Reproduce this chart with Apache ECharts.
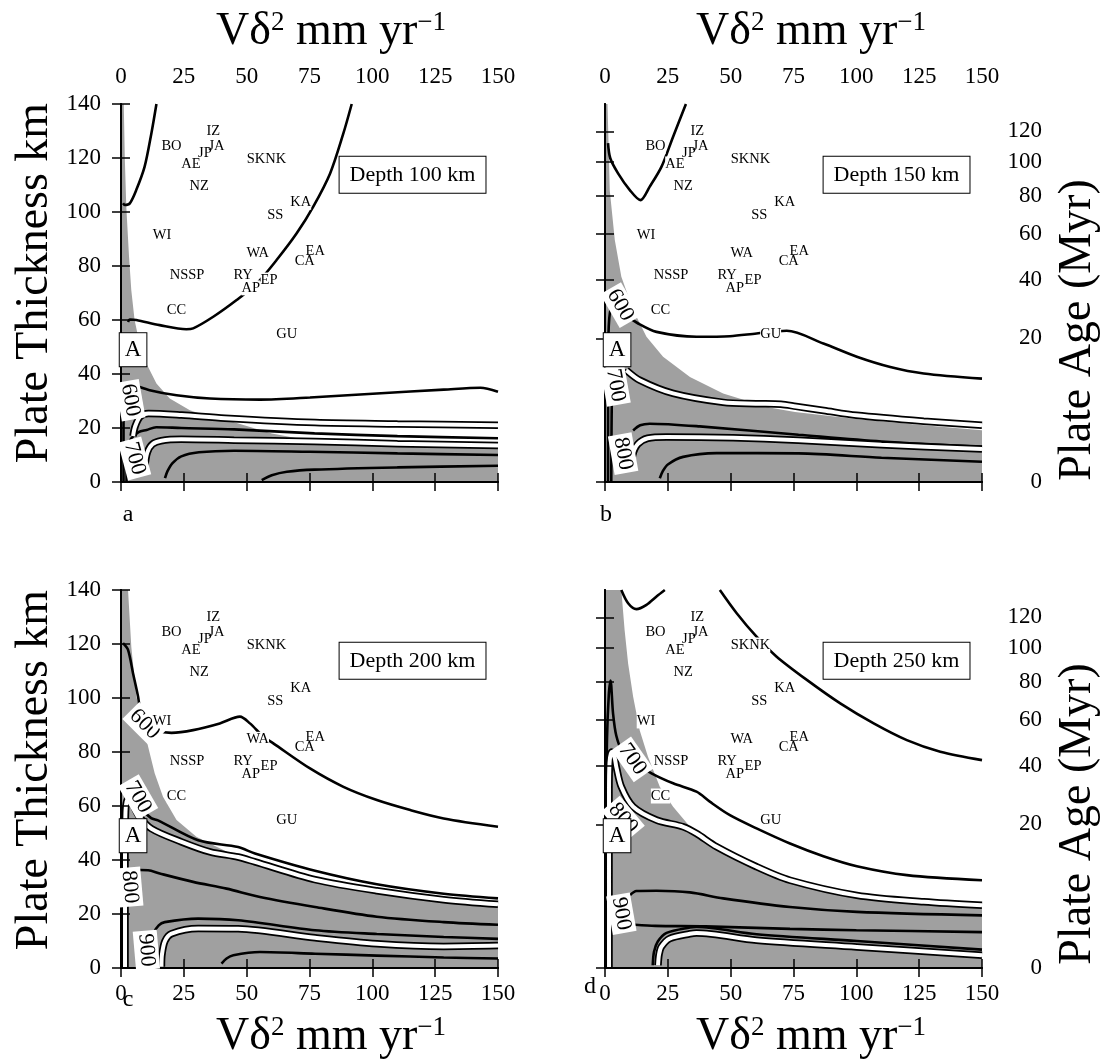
<!DOCTYPE html>
<html>
<head>
<meta charset="utf-8">
<title>Plate thickness vs V delta squared</title>
<script src="https://cdn.jsdelivr.net/npm/echarts@6/dist/echarts.min.js"></script>
<style>
  html, body { margin: 0; padding: 0; background: #fff; }
  #chart { width: 1101px; height: 1060px; }
</style>
</head>
<body>
<div id="chart"></div>
<script>
// ---- axis ticks ----
var xTicks = [0, 25, 50, 75, 100, 125, 150];
var ageLabels = [0, 20, 40, 60, 80, 100, 120];
var ageThickness = [0, 53.2, 74.9, 91.8, 105.9, 118.6, 129.9];   // km where each age tick sits

// ---- subduction zones (same in every panel) ----
var zoneNames = ['IZ', 'BO', 'JA', 'JP', 'AE', 'SKNK', 'NZ', 'KA', 'SS', 'WI', 'WA', 'EA', 'CA', 'NSSP', 'RY', 'EP', 'AP', 'CC', 'GU'];
var zoneV = [36.7, 20.1, 38, 33.4, 27.8, 57.9, 31.1, 71.5, 61.4, 16.3, 54.4, 77.3, 73.1, 26.3, 48.6, 58.9, 51.6, 22.1, 65.9];
var zoneH = [129.8, 124.2, 124.2, 121.7, 117.8, 119.6, 109.6, 103.6, 98.9, 91.5, 84.7, 85.5, 81.8, 76.6, 76.6, 74.8, 71.9, 63.7, 54.6];

var depths = [100, 150, 200, 250];

// ---- panel a : depth 100 km ----
var greyA = [[0,140],[1.1,140],[1.5,120.5],[2.1,102],[3.2,83.4],[4.1,71],[5.4,60],[7.4,51.3],[10.1,43.9],[14.1,36.5],[19.4,30.9],[27.4,26.6],[35.4,24.1],[44.7,22.2],[60,18],[77,15],[110,14.2],[150,13.5],[150,0],[0,0]];
var lineA1 = [[14.1,140],[12.1,129.2],[9.4,116.8],[6.1,108.2],[3.5,103.2],[1.5,102.6],[0.8,103.2]];
var lineA2 = [[91.8,140],[88.5,129.2],[83.2,114.3],[76.5,102],[69.9,92.1],[61.9,82.2],[54,73.5],[46,67.4],[36.7,61.2],[28.7,56.9],[26,56.6],[15.4,58.1],[6.1,60],[3.5,60.2],[2.8,59.3]];
var lineA3 = [[150,33.4],[143,34.9],[128.4,34.2],[101.8,32.8],[75.2,31.3],[55.3,30.5],[35.4,30.9],[22.1,32.1],[11.4,34],[5.4,35.8],[2.5,36.5],[1.2,34],[1,25],[1,0]];
var lineA4 = [[150,16.2],[110,17],[77,18],[45,19.5],[24,20],[14,20.3],[10.2,19.3],[7,18.5],[4,16],[2.5,12],[2.2,0]];
var lineA5 = [[17.5,1.4],[18.5,4],[20.5,7],[24,9.5],[31,11],[45,11.6],[75,11.2],[110,10.6],[150,10]];
var lineA6 = [[56,0.7],[60,2.5],[66,3.8],[77,4.6],[110,5.4],[150,6]];
var ribbonA1 = [[4.8,17],[5.6,20.5],[7.6,24.2],[10.9,25.4],[24.1,24.8],[41.4,23.6],[77.2,22],[110,21.5],[150,21]];
var ribbonA2 = [[9.5,6],[10.5,11],[12.5,14],[16,15.3],[24,15.8],[45,15.5],[77,15],[110,14.2],[150,13.5]];
var levelsA = [[3.7,30.3,'600'],[5.4,8.7,'700']];
var levelAnglesA = [-80, -75];

// ---- panel b : depth 150 km ----
var greyB = [[0,140],[1,140],[1.9,108],[3.9,89.6],[6.5,76],[11.2,63.7],[16.5,53.8],[23.1,46.4],[33.8,38.9],[47,32.8],[57.7,29.7],[66,27.5],[75.6,25.9],[100,23.3],[126.8,21],[150,19.2],[150,0],[0,0]];
var lineB1 = [[32.2,140],[27.1,127.9],[22.5,116.8],[17.8,109.4],[14.1,104.4],[9.8,108.2],[5.2,114.3],[2.1,119.9],[1.2,125.5]];
var lineB2 = [[150,38.3],[126.8,40.2],[113.5,42.6],[100.2,46.4],[86.9,51.3],[72.3,56],[60.3,55],[49.7,54],[36.4,53.8],[20.5,55.6],[13.2,58.7],[8,62],[4,66],[2,63],[1.3,50],[1.2,0]];
var lineB3 = [[150,13],[110,15],[77,17.5],[37.7,20.6],[17.8,21.6],[14,21],[11.2,19.1]];
var lineB4 = [[21.8,1.4],[23,4],[25,6.5],[31.1,9.3],[44.4,10.7],[77,10.6],[110,9],[150,7.5]];
var lineB5 = [[8.5,41.4],[5,40],[3,36],[2.6,20],[2.5,0]];
var ribbonB1 = [[8.5,41.4],[13.8,37.7],[27.1,32.8],[47,29.5],[60,29],[70,28.8],[76,28],[87,26.5],[100,24.7],[126.8,22.5],[150,21]];
var ribbonB2 = [[10.5,5],[11,10],[13,14],[17,16.2],[24.5,16.7],[51,16.4],[77,15.5],[110,13.8],[150,12.2]];
var levelsB = [[6.1,65.5,'600'],[4.2,35.8,'700'],[7.2,10.5,'800']];
var levelAnglesB = [-60, -80, -80];

// ---- panel c : depth 200 km ----
var greyC = [[0,140],[2.8,140],[4.1,119],[6.1,100.5],[8.8,90.6],[10.8,81.9],[13.4,72.1],[16.7,63.4],[22.1,54.8],[30,48.6],[38,44.9],[46.6,41.1],[53.3,39.3],[77.2,32.7],[101.8,28.6],[128.4,25.3],[150,23.6],[150,0],[0,0]];
var lineC1 = [[0.8,120.3],[2.8,117.8],[4.8,109.1],[6.8,100.5],[7.4,96.8],[9.4,90.3],[14,88],[20.1,87.1],[28.7,88.1],[39.3,90.6],[47.3,93.1],[51.3,90.6],[56.6,85.7],[60.6,83.2],[75.2,73.9],[88.5,67.1],[101.8,62.2],[115.1,58.5],[128.4,55.4],[150,52.3]];
var lineC2 = [[7,60],[12,55.5],[14.7,54.7],[30.7,47.3],[46.6,44.8],[53.3,42.4],[77.2,36],[101.8,31],[128.4,27.5],[150,25.8]];
var lineC3 = [[3,36.4],[10.8,36.2],[15.4,35],[28.7,31.9],[42,29.4],[55.3,26.3],[77.2,22.6],[101.8,19],[128.4,17],[150,16]];
var lineC4 = [[11.8,9],[12.8,12.7],[15,15.8],[17.4,17],[30.7,18.3],[46.6,17.7],[77.2,14],[101.8,12.6],[128.4,11.5],[150,10.8]];
var lineC5 = [[40,1.6],[42,3.5],[44.7,4.7],[55.3,5.9],[77.2,5.3],[101.8,4.6],[128.4,3.9],[150,3.5]];
var ribbonC1 = [[1.6,0],[1.6,40],[1.8,58],[2.6,62.5],[4,62],[7,56.5],[12.1,51.6],[24.1,46.7],[35.4,43],[46.6,41.1],[53.3,39.3],[77.2,32.7],[101.8,28.6],[128.4,25.3],[150,23.6]];
var ribbonC2 = [[16.1,0.5],[16.3,5],[17.5,10],[20.1,12.7],[30.7,14.6],[46.6,14.5],[77.2,11.2],[101.8,9],[128.4,8],[150,8.3]];
var levelsC = [[9.4,90.3,'600'],[6.8,63.3,'700'],[3.5,30,'800'],[10.1,6.6,'900']];
var levelAnglesC = [-45, -60, -85, -85];

// ---- panel d : depth 250 km ----
var greyD = [[0,140],[6.5,140],[7.8,125.2],[9.2,112.8],[11.2,100.5],[13.8,88.1],[17.1,78.2],[21.8,67.1],[27.1,59.7],[33.8,52.3],[40.4,46.1],[47,42.4],[60.3,36.8],[73.6,32],[100.2,26.9],[126.8,24.5],[150,23.2],[150,0],[0,0]];
var lineD1 = [[6.5,140],[9.2,135.1],[12.5,132.9],[16.5,134.5],[20.5,137.6],[23.8,140]];
var lineD2 = [[45.7,140],[52.4,131.4],[60.3,122.7],[68.3,115.3],[80.3,106.7],[93.6,98],[106.9,90.6],[120.1,84.4],[133.4,80.1],[150,77]];
var lineD3 = [[150,32.5],[120.1,34.4],[100.2,37.7],[86.9,41.4],[73.6,46.1],[60.3,51.7],[49.7,56.6],[41.7,61.6],[36.4,65.3],[27.1,68.4],[18.5,72.1],[12,76],[7,80],[4.5,86],[3.2,94.3],[2.2,106.5],[1.5,101],[0.8,85],[0.6,60]];
var lineD4 = [[10,27],[12.5,28.5],[20.5,28.6],[33.8,28],[47,25.8],[73.6,22.6],[100.2,20.8],[150,19.5]];
var lineD5 = [[12,16],[20,15.6],[40,15.4],[73.6,14.5],[100,14],[150,13.3]];
var lineD6 = [[19,1],[19.5,6],[21,9.8],[24.5,13],[33.8,15],[36.4,15.2],[60.3,12.5],[100.2,10],[150,6.8]];
var ribbonD1 = [[1.6,0],[1.6,40],[1.6,65],[1.8,76],[2.6,80],[3.8,78],[4.5,74.5],[6.5,67.1],[11.2,59.7],[20.5,54.8],[31.1,52.3],[36.4,49.8],[44.4,44.9],[60.3,37.5],[73.6,32.5],[100.2,26.9],[126.8,24.5],[150,23.2]];
var ribbonD2 = [[21.1,1],[21.5,5],[22.4,7.8],[25.7,10.9],[33.8,12.7],[36.4,13],[60.3,10.3],[100.2,7.8],[150,4.7]];
var levelsD = [[10.9,77.3,'700'],[7.2,55.4,'800'],[6.5,20.1,'900']];
var levelAnglesD = [-55, -50, -80];

var panels = [
  { grey: greyA, lines: [lineA1, lineA2, lineA3, lineA4, lineA5, lineA6], ribbons: [ribbonA1, ribbonA2], levels: levelsA, angles: levelAnglesA },
  { grey: greyB, lines: [lineB1, lineB2, lineB3, lineB4, lineB5], ribbons: [ribbonB1, ribbonB2], levels: levelsB, angles: levelAnglesB },
  { grey: greyC, lines: [lineC1, lineC2, lineC3, lineC4, lineC5], ribbons: [ribbonC1, ribbonC2], levels: levelsC, angles: levelAnglesC },
  { grey: greyD, lines: [lineD1, lineD2, lineD3, lineD4, lineD5, lineD6], ribbons: [ribbonD1, ribbonD2], levels: levelsD, angles: levelAnglesD }
];

var gridLeft = [121, 605, 121, 605];
var gridTop = [104, 104, 590, 590];
var serif = '"Liberation Serif", "DejaVu Serif", serif';

var chart = echarts.init(document.getElementById('chart'));

var grids = [], xAxes = [], yAxes = [], series = [];

function ageFormatter(v) {
  var i = ageThickness.indexOf(v);
  return i >= 0 ? String(ageLabels[i]) : '';
}

panels.forEach(function (p, i) {
  var useAge = (i === 1 || i === 3);
  grids.push({ left: gridLeft[i], top: gridTop[i], width: 377, height: 378 });

  var xBase = {
    gridIndex: i, type: 'value', min: 0, max: 150, interval: 25, z: 5,
    axisLine: { lineStyle: { color: '#000', width: 2 } },
    axisTick: { show: true, length: 9, lineStyle: { color: '#000', width: 1.5 } },
    splitLine: { show: false }
  };
  xAxes.push(Object.assign({}, xBase, { position: 'bottom',
    axisLabel: { show: i >= 2, margin: 14, fontSize: 23, fontFamily: serif, color: '#000' } }));
  xAxes.push(Object.assign({}, xBase, { position: 'top',
    axisLabel: { show: i < 2, margin: 16, fontSize: 23, fontFamily: serif, color: '#000' } }));

  var yBase = {
    gridIndex: i, type: 'value', min: 0, max: 140, z: 5,
    axisLine: { lineStyle: { color: '#000', width: 2 } },
    splitLine: { show: false }
  };
  if (useAge) {
    yAxes.push(Object.assign({}, yBase, { position: 'left', interval: 20,
      axisTick: { show: true, length: 9, customValues: ageThickness, lineStyle: { color: '#000', width: 1.5 } },
      axisLabel: { show: false } }));
    yAxes.push(Object.assign({}, yBase, { position: 'right', interval: 20,
      axisTick: { show: true, length: 9, customValues: ageThickness, lineStyle: { color: '#000', width: 1.5 } },
      axisLabel: { show: true, customValues: ageThickness, formatter: ageFormatter, align: 'right', margin: 60,
        fontSize: 23, fontFamily: serif, color: '#000' } }));
  } else {
    yAxes.push(Object.assign({}, yBase, { position: 'left', interval: 20,
      axisTick: { show: true, length: 9, lineStyle: { color: '#000', width: 1.5 } },
      axisLabel: { show: true, margin: 20, fontSize: 23, fontFamily: serif, color: '#000' } }));
    yAxes.push(Object.assign({}, yBase, { position: 'right', interval: 20,
      axisTick: { show: true, length: 9, lineStyle: { color: '#000', width: 1.5 } },
      axisLabel: { show: false } }));
  }

  var xi = 2 * i, yi = 2 * i;

  // grey region
  series.push({
    type: 'custom', coordinateSystem: 'cartesian2d', xAxisIndex: xi, yAxisIndex: yi,
    silent: true, z: 1, data: p.grey,
    renderItem: function (params, api) {
      if (params.dataIndex !== 0) return null;
      var pts = p.grey.map(function (d) { return api.coord(d); });
      return { type: 'polygon', shape: { points: pts }, style: { fill: '#a0a0a0', stroke: null } };
    }
  });

  // black contours
  p.lines.forEach(function (ln) {
    series.push({
      type: 'line', xAxisIndex: xi, yAxisIndex: yi, data: ln, symbol: 'none', smooth: 0.3,
      silent: true, z: 2, lineStyle: { color: '#000', width: 2.6 }
    });
  });

  // white contours with black edges
  p.ribbons.forEach(function (ln) {
    series.push({
      type: 'line', xAxisIndex: xi, yAxisIndex: yi, data: ln, symbol: 'none', smooth: 0.3,
      silent: true, z: 3, lineStyle: { color: '#000', width: 7.5 }
    });
    series.push({
      type: 'line', xAxisIndex: xi, yAxisIndex: yi, data: ln, symbol: 'none', smooth: 0.3,
      silent: true, z: 4, lineStyle: { color: '#fff', width: 4 }
    });
  });

  // annotations: contour levels, zone names (white patch + text), "A", depth box
  var notes = [];
  p.levels.forEach(function (l, k) {
    notes.push({ v: [l[0], l[1]], text: l[2], kind: 'level', angle: p.angles[k] });
  });
  zoneNames.forEach(function (n, k) {
    notes.push({ v: [zoneV[k], zoneH[k]], text: n, kind: 'patch' });
  });
  zoneNames.forEach(function (n, k) {
    notes.push({ v: [zoneV[k], zoneH[k]], text: n, kind: 'zone' });
  });
  notes.push({ v: [4.8, 49], text: 'A', kind: 'box' });
  notes.push({ v: [116, 113.8], text: 'Depth ' + depths[i] + ' km', kind: 'depth' });

  series.push({
    type: 'custom', coordinateSystem: 'cartesian2d', xAxisIndex: xi, yAxisIndex: yi,
    silent: true, z: 8, data: notes.map(function (n) { return n.v; }),
    renderItem: function (params, api) {
      var n = notes[params.dataIndex];
      var c = api.coord(n.v);
      var st = { text: n.text, fill: '#000', align: 'center', verticalAlign: 'middle' };
      var el = { type: 'text', x: c[0], y: c[1], style: st };
      if (n.kind === 'level') {
        st.font = '22px ' + serif; st.padding = [1, 3]; st.backgroundColor = '#fff';
        el.rotation = n.angle * Math.PI / 180; el.z2 = 1;
      } else if (n.kind === 'patch') {
        st.font = '14.5px ' + serif; st.fill = 'rgba(0,0,0,0)'; st.backgroundColor = '#fff'; el.z2 = 2;
      } else if (n.kind === 'zone') {
        st.font = '14.5px ' + serif; el.z2 = 3;
      } else if (n.kind === 'box') {
        st.font = '23px ' + serif; st.padding = [5, 5]; st.backgroundColor = '#fff';
        st.borderColor = '#000'; st.borderWidth = 1; el.z2 = 4;
      } else {
        st.font = '22px ' + serif; st.padding = [7, 10]; st.backgroundColor = '#fff';
        st.borderColor = '#000'; st.borderWidth = 1; el.z2 = 4;
      }
      return el;
    }
  });
});

function axisTitle(x, y) {
  return {
    type: 'text', x: x, y: y, silent: true,
    style: {
      text: '{n|V\u03b4}{s|2}{n| mm yr}{s|\u22121}', align: 'center', verticalAlign: 'middle', fill: '#000',
      rich: {
        n: { fontSize: 46, fontFamily: serif, fill: '#000' },
        s: { fontSize: 27, fontFamily: serif, fill: '#000', verticalAlign: 'top' }
      }
    }
  };
}
function plainText(t, x, y, size, rot) {
  return {
    type: 'text', x: x, y: y, rotation: rot || 0, silent: true,
    style: { text: t, font: size + 'px ' + serif, fill: '#000', align: 'center', verticalAlign: 'middle' }
  };
}

var graphics = [
  axisTitle(331, 32), axisTitle(811, 32), axisTitle(331, 1037), axisTitle(811, 1037),
  plainText('Plate Thickness km', 35, 283, 46, Math.PI / 2),
  plainText('Plate Thickness km', 35, 770, 46, Math.PI / 2),
  plainText('Plate Age (Myr)', 1078, 330, 46, Math.PI / 2),
  plainText('Plate Age (Myr)', 1078, 814, 46, Math.PI / 2),
  plainText('a', 128, 515, 24), plainText('b', 606, 515, 24),
  plainText('c', 128, 1000, 24), plainText('d', 590, 987, 24)
];

chart.setOption({
  animation: false,
  backgroundColor: '#fff',
  grid: grids,
  xAxis: xAxes,
  yAxis: yAxes,
  series: series,
  graphic: graphics
});
</script>
</body>
</html>
